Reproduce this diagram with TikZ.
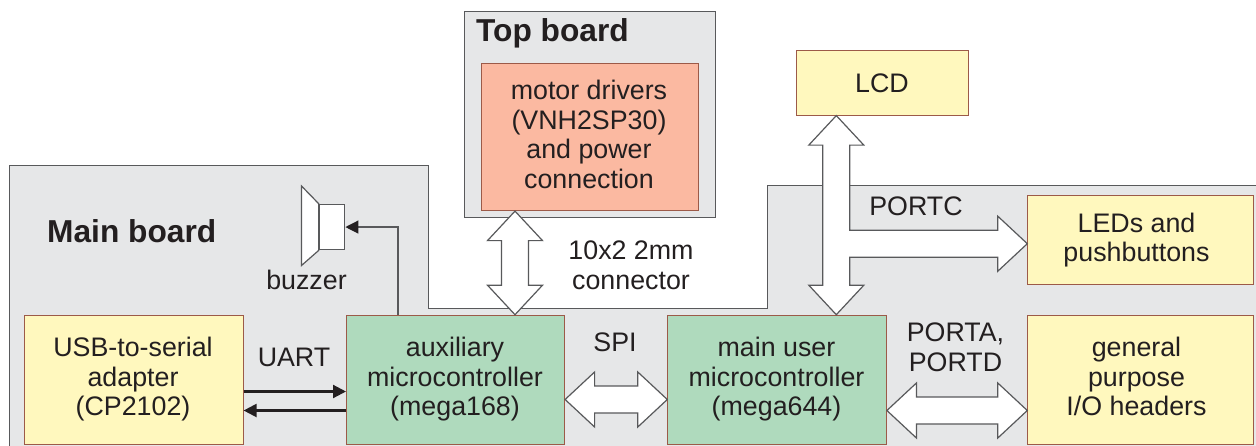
\documentclass[tikz,border=0pt]{standalone}
\usepackage{fontspec}
\setmainfont{Liberation Sans}
\usetikzlibrary{calc,arrows.meta}
\definecolor{boardgray}{HTML}{E6E7E8}
\definecolor{lineD}{HTML}{58595B}
\definecolor{ink}{HTML}{231F20}
\definecolor{edgeR}{HTML}{9C5A48}
\definecolor{yell}{HTML}{FFF8BE}
\definecolor{grn}{HTML}{AFDABD}
\definecolor{salm}{HTML}{FBB9A1}
\tikzset{
  board/.style={fill=boardgray,draw=lineD,line width=1.2pt,line join=miter},
  blockbox/.style={draw=edgeR,line width=1.1pt,anchor=north west,inner sep=0pt,align=center,text=ink,
     font=\fontsize{26.8}{29.5}\selectfont},
  lab/.style={inner sep=0pt,align=center,text=ink,font=\fontsize{26.8}{29.5}\selectfont},
  titlelab/.style={inner sep=0pt,text=ink,font=\fontsize{31.7}{34}\selectfont\bfseries},
  bus/.style={fill=white,draw=lineD,line width=1.2pt,line join=miter},
  thin wire/.style={draw=lineD,line width=1.2pt,-{Triangle[length=13pt,width=13pt,color=ink]}},
  uart/.style={draw=ink,line width=2.2pt,-{Triangle[length=13pt,width=13pt]}},
  buzz/.style={fill=white,draw=lineD,line width=1.2pt,line join=miter}
}
% vertical double bus from (top tip) to (bottom tip)
\newcommand{\busV}[2]{\draw[bus] let \p1=#1,\p2=#2 in
  (\x1,\y1) -- (\x1+27.5pt,\y1-29.5pt) -- (\x1+13.5pt,\y1-29.5pt) -- (\x1+13.5pt,\y2+29.5pt)
  -- (\x1+27.5pt,\y2+29.5pt) -- (\x1,\y2) -- (\x1-27.5pt,\y2+29.5pt) -- (\x1-13.5pt,\y2+29.5pt)
  -- (\x1-13.5pt,\y1-29.5pt) -- (\x1-27.5pt,\y1-29.5pt) -- cycle;}
% horizontal double bus from (left tip) to (right tip)
\newcommand{\busH}[2]{\draw[bus] let \p1=#1,\p2=#2 in
  (\x1,\y1) -- (\x1+29.5pt,\y1+27.5pt) -- (\x1+29.5pt,\y1+13.5pt) -- (\x2-29.5pt,\y1+13.5pt)
  -- (\x2-29.5pt,\y1+27.5pt) -- (\x2,\y1) -- (\x2-29.5pt,\y1-27.5pt) -- (\x2-29.5pt,\y1-13.5pt)
  -- (\x1+29.5pt,\y1-13.5pt) -- (\x1+29.5pt,\y1-27.5pt) -- cycle;}
\begin{document}
\begin{tikzpicture}[x=1pt,y=-1pt]
\useasboundingbox (0,0) rectangle (1256,445);
% boards
\draw[board] (9.7,447) -- (9.7,165.2) -- (428.7,165.2) -- (428.7,308.2) -- (767.7,308.2) -- (767.7,185.2) -- (1258,185.2) -- (1258,447) -- cycle;
\node[draw=lineD,fill=boardgray,line width=1.2pt,anchor=north west,inner sep=0pt,minimum width=251.5pt,minimum height=206.5pt] (topboard) at (463.5,10.7) {};
\node[titlelab,anchor=west] (toptitle) at (476,33) {Top board};
\node[titlelab,anchor=west] (maintitle) at (47,231.5) {Main board};
% blocks
\node[blockbox,fill=salm,minimum width=217pt,minimum height=147pt,text depth=0pt] (motors) at (480.7,63) {};
\node[lab] (motorstext) at (589,134.5) {motor drivers\\(VNH2SP30)\\and power\\connection};
\node[blockbox,fill=yell,minimum width=172pt,minimum height=64.5pt] (lcd) at (795.7,50) {};
\node[lab] (lcdtext) at (882,83) {LCD};
\node[blockbox,fill=yell,minimum width=226pt,minimum height=89.5pt] (leds) at (1027.3,194.7) {};
\node[lab] (ledstext) at (1136.5,240) {LEDs and\\pushbuttons};
\node[blockbox,fill=yell,minimum width=226pt,minimum height=129pt] (io) at (1027.3,314.7) {};
\node[lab] (iotext) at (1136.5,376.5) {general\\purpose\\I/O headers};
\node[blockbox,fill=grn,minimum width=218.5pt,minimum height=129pt] (mainuc) at (667.3,314.7) {};
\node[lab] (maintext) at (776.5,379.5) {main user\\microcontroller\\(mega644)};
\node[blockbox,fill=grn,minimum width=218pt,minimum height=129pt] (auxuc) at (346,314.7) {};
\node[lab] (auxtext) at (455,379.5) {auxiliary\\microcontroller\\(mega168)};
\node[blockbox,fill=yell,minimum width=218.5pt,minimum height=129pt] (usb) at (24,314.7) {};
\node[lab] (usbtext) at (133,379.5) {USB-to-serial\\adapter\\(CP2102)};
% guide coordinates
\coordinate (xconn) at (515,0);
\coordinate (xlcd) at (836.3,0);
\coordinate (yspi) at (0,399.5);
\coordinate (yio) at (0,410.5);
\coordinate (yled) at (0,243.7);
\coordinate (ytx) at (0,391.5);
\coordinate (yrx) at (0,410.5);
\coordinate (xbuzz) at (398,0);
% buses
\busV{(motors.south -| xconn)}{(auxuc.north -| xconn)}
\busH{(auxuc.east |- yspi)}{(mainuc.west |- yspi)}
\busH{(mainuc.east |- yio)}{(io.west |- yio)}
\draw[bus] let \p1=(lcd.south -| xlcd),\p2=(mainuc.north -| xlcd),\p3=(leds.west |- yled) in
  (\x1,\y1) -- (\x1+27.5pt,\y1-29.5pt) -- (\x1+13.5pt,\y1-29.5pt) -- (\x1+13.5pt,\y3+13.5pt)
  -- (\x3-29.5pt,\y3+13.5pt) -- (\x3-29.5pt,\y3+27.5pt) -- (\x3,\y3) -- (\x3-29.5pt,\y3-27.5pt)
  -- (\x3-29.5pt,\y3-13.5pt) -- (\x1+13.5pt,\y3-13.5pt) -- (\x1+13.5pt,\y2+29.5pt)
  -- (\x1+27.5pt,\y2+29.5pt) -- (\x1,\y2) -- (\x1-27.5pt,\y2+29.5pt) -- (\x1-13.5pt,\y2+29.5pt)
  -- (\x1-13.5pt,\y1-29.5pt) -- (\x1-27.5pt,\y1-29.5pt) -- cycle;
% buzzer
\node[buzz,anchor=north west,inner sep=0pt,minimum width=25.5pt,minimum height=45.5pt] (buzzbody) at (318.7,203.7) {};
\draw[buzz] (buzzbody.north west) -- (301.5,186) -- (301.5,265.5) -- (buzzbody.south west) -- cycle;
\node[lab] (buzzlab) at (306.5,279.5) {buzzer};
\draw[thin wire] (auxuc.north -| xbuzz) |- (buzzbody.east);
% UART
\draw[uart] (usb.east |- ytx) -- (auxuc.west |- ytx);
\draw[uart] (auxuc.west |- yrx) -- (usb.east |- yrx);
% labels
\node[lab] (lconn) at (631,265.5) {10x2 2mm\\connector};
\node[lab] (lspi) at (615,342.5) {SPI};
\node[lab] (luart) at (294,357) {UART};
\node[lab] (lportc) at (916,206.5) {PORTC};
\node[lab] (lporta) at (955.5,347.5) {PORTA,\\PORTD};
\end{tikzpicture}
\end{document}
